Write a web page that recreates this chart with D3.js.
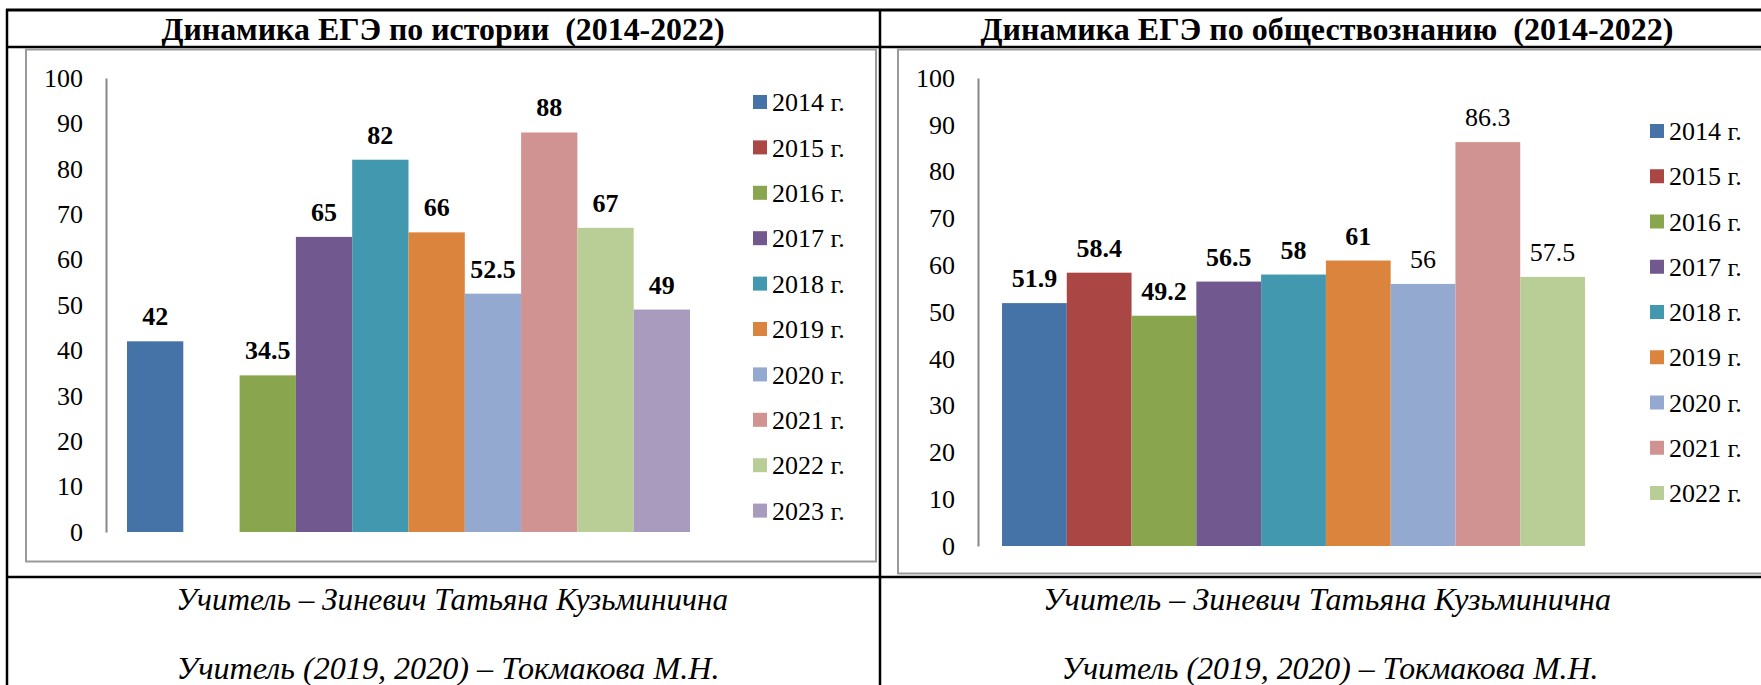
<!DOCTYPE html>
<html><head><meta charset="utf-8">
<script src="https://cdn.jsdelivr.net/npm/d3@7/dist/d3.min.js"></script>
<style>
html,body{margin:0;padding:0;background:#fff;}
svg{display:block;}
</style></head>
<body>
<svg id="c" width="1761" height="685"></svg>
<script>
// ---- data ----
const historyYears = ["2014 г.","2015 г.","2016 г.","2017 г.","2018 г.","2019 г.","2020 г.","2021 г.","2022 г.","2023 г."];
const historyValues = [42, null, 34.5, 65, 82, 66, 52.5, 88, 67, 49];
const socialYears = ["2014 г.","2015 г.","2016 г.","2017 г.","2018 г.","2019 г.","2020 г.","2021 г.","2022 г."];
const socialValues = [51.9, 58.4, 49.2, 56.5, 58, 61, 56, 86.3, 57.5];
const yTicks = [0,10,20,30,40,50,60,70,80,90,100];
const titles = ["Динамика ЕГЭ по истории  (2014-2022)", "Динамика ЕГЭ по обществознанию  (2014-2022)"];
const footerLines = ["Учитель – Зиневич Татьяна Кузьминична", "Учитель (2019, 2020) – Токмакова М.Н."];
const palette = ["#4572A7","#AA4643","#89A54E","#71588F","#4198AF","#DB843D","#93A9CF","#D19392","#B9CD96","#A99BBD"];

const FONT = '"Liberation Serif"';
const svg = d3.select("#c");

// ---- table grid ----
const grid = svg.append("g").attr("stroke","#000").attr("fill","none");
grid.append("line").attr("x1",6).attr("x2",1761).attr("y1",10).attr("y2",10).attr("stroke-width",3);
grid.append("line").attr("x1",6).attr("x2",1761).attr("y1",47).attr("y2",47).attr("stroke-width",2.5);
grid.append("line").attr("x1",6).attr("x2",1761).attr("y1",577).attr("y2",577).attr("stroke-width",2.5);
grid.append("line").attr("x1",7).attr("x2",7).attr("y1",9).attr("y2",685).attr("stroke-width",2.5);
grid.append("line").attr("x1",880).attr("x2",880).attr("y1",9).attr("y2",685).attr("stroke-width",2.5);

// chart frames
svg.append("rect").attr("x",26).attr("y",49.5).attr("width",850).attr("height",512)
  .attr("fill","none").attr("stroke","#9a9a9a").attr("stroke-width",2);
svg.append("rect").attr("x",898).attr("y",49.5).attr("width",900).attr("height",524)
  .attr("fill","none").attr("stroke","#9a9a9a").attr("stroke-width",2);

// titles
const titleSpecs = [{x:443, w:563},{x:1327, w:693}];
titles.forEach((t,i)=>{
  svg.append("text").attr("x",titleSpecs[i].x).attr("y",40).attr("text-anchor","middle")
    .style("font-family",FONT).style("font-size","31px").style("font-weight","bold")
    .style("white-space","pre")
    .attr("textLength",titleSpecs[i].w).attr("lengthAdjust","spacingAndGlyphs").text(t);
});

// footers
const footSpecs = [
  [{x:452,w:552,y:610},{x:448,w:543,y:679}],
  [{x:1327,w:568,y:610},{x:1330,w:537,y:679}]
];
footSpecs.forEach(col=>{
  col.forEach((s,j)=>{
    svg.append("text").attr("x",s.x).attr("y",s.y).attr("text-anchor","middle")
      .style("font-family",FONT).style("font-size","31px").style("font-style","italic")
      .attr("textLength",s.w).attr("lengthAdjust","spacingAndGlyphs").text(footerLines[j]);
  });
});

function drawChart(opt){
  const {years, values, xRange, yRange, axisX, legendX, legendY0, legendStep, boldCount} = opt;
  const x = d3.scaleBand().domain(years).range(xRange).paddingInner(0).paddingOuter(0);
  const y = d3.scaleLinear().domain([0,100]).range(yRange);
  const g = svg.append("g");

  const ax = g.append("g").attr("transform",`translate(${axisX},0)`)
    .call(d3.axisLeft(y).tickValues(yTicks).tickSize(0).tickSizeOuter(0).tickPadding(23));
  ax.attr("font-family",null).attr("font-size",null);
  ax.select(".domain").attr("stroke","#888").attr("stroke-width",2);
  ax.selectAll("text").style("font-size","26px").style("font-family",FONT).attr("fill","#000");

  const data = years.map((yr,i)=>({yr, v: values[i], i}));
  const withV = data.filter(d=>d.v!=null);

  g.selectAll("rect.bar").data(withV).join("rect").attr("class","bar")
    .attr("x",d=>x(d.yr)).attr("width",x.bandwidth())
    .attr("y",d=>y(d.v)).attr("height",d=>y(0)-y(d.v))
    .attr("fill",d=>palette[d.i]);

  g.selectAll("text.lbl").data(withV).join("text").attr("class","lbl")
    .attr("x",d=>x(d.yr)+x.bandwidth()/2).attr("y",d=>y(d.v)-16)
    .attr("text-anchor","middle")
    .style("font-family",FONT).style("font-size","26px")
    .style("font-weight",d=>d.i<boldCount?"bold":"normal")
    .text(d=>d.v);

  const lg = g.selectAll("g.leg").data(data).join("g").attr("class","leg")
    .attr("transform",(d,i)=>`translate(${legendX},${legendY0 + i*legendStep})`);
  lg.append("rect").attr("x",0).attr("y",-7).attr("width",14).attr("height",14).attr("fill",d=>palette[d.i]);
  lg.append("text").attr("x",19).attr("y",0).attr("dy","0.35em")
    .style("font-family",FONT).style("font-size","26px").text(d=>d.yr);
}

drawChart({years:historyYears, values:historyValues, xRange:[127,690], yRange:[532,78], axisX:106,
  legendX:753, legendY0:102, legendStep:45.4, boldCount:99});
drawChart({years:socialYears, values:socialValues, xRange:[1002,1585], yRange:[546,78], axisX:978,
  legendX:1650, legendY0:131, legendStep:45.25, boldCount:6});
</script>
</body></html>
